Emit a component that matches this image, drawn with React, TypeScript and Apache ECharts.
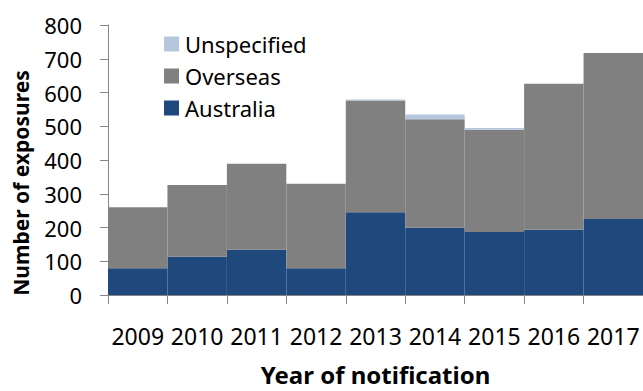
import React, { useEffect, useRef } from "react";
import * as echarts from "echarts";

const years = ["2009", "2010", "2011", "2012", "2013", "2014", "2015", "2016", "2017"];
const australia = [79, 113, 134, 79, 245, 199, 187, 193, 225];
const overseas = [181, 213, 255, 251, 331, 322, 303, 433, 492];
const unspecified = [0, 0, 0, 0, 3, 14, 5, 0, 0];
const yTicks = { min: 0, max: 800, interval: 100 };
const yTitle = "Number of exposures";
const xTitle = "Year of notification";

const FONT = "'Noto Sans', 'Open Sans', sans-serif";

export default function App() {
  const ref = useRef<HTMLDivElement>(null);
  useEffect(() => {
    if (!ref.current) return;
    const chart = echarts.init(ref.current, undefined, { renderer: "svg" });
    chart.setOption({
      animation: false,
      backgroundColor: "#ffffff",
      grid: { left: 108, right: 0, top: 25, bottom: 84, containLabel: false },
      legend: {
        orient: "vertical",
        left: 159,
        top: 28,
        itemWidth: 15,
        itemHeight: 15,
        itemGap: 10,
        itemStyle: { borderWidth: 0 },
        textStyle: { fontFamily: FONT, fontSize: 22, color: "#000000", padding: [0, 0, 0, 1] },
        data: ["Unspecified", "Overseas", "Australia"],
        icon: "rect",
      },
      graphic: [
        {
          type: "text",
          x: 21,
          y: 183,
          rotation: Math.PI / 2,
          style: {
            text: yTitle,
            fontFamily: FONT,
            fontSize: 21,
            fontWeight: "bold",
            fill: "#000000",
            textAlign: "center",
            textVerticalAlign: "middle",
          },
        },
      ],
      xAxis: {
        type: "category",
        data: years,
        boundaryGap: true,
        axisLine: { lineStyle: { color: "#868686", width: 1 } },
        axisTick: { show: true, length: 9, alignWithLabel: false, lineStyle: { color: "#868686" } },
        axisLabel: { fontFamily: FONT, fontSize: 23, color: "#000000", margin: 29, interval: 0 },
        name: xTitle,
        nameLocation: "middle",
        nameGap: 67,
        nameTextStyle: { fontFamily: FONT, fontSize: 24, fontWeight: "bold", color: "#000000" },
      },
      yAxis: {
        type: "value",
        min: yTicks.min,
        max: yTicks.max,
        interval: yTicks.interval,
        splitLine: { show: false },
        axisLine: { show: true, lineStyle: { color: "#868686", width: 1 } },
        axisTick: { show: true, length: 8, lineStyle: { color: "#868686" } },
        axisLabel: { fontFamily: FONT, fontSize: 22, color: "#000000", margin: 26 },
      },
      series: [
        {
          name: "Australia",
          type: "bar",
          stack: "total",
          data: australia,
          barCategoryGap: 0,
          barGap: 0,
          itemStyle: { color: "#1f497d" },
        },
        {
          name: "Overseas",
          type: "bar",
          stack: "total",
          data: overseas,
          barCategoryGap: 0,
          barGap: 0,
          itemStyle: { color: "#808080" },
        },
        {
          name: "Unspecified",
          type: "bar",
          stack: "total",
          data: unspecified,
          barCategoryGap: 0,
          barGap: 0,
          itemStyle: { color: "#b4c7dd" },
        },
      ],
    });
    return () => chart.dispose();
  }, []);
  return (
    <div
      ref={ref}
      style={{ position: "fixed", left: 0, top: 0, width: 643, height: 391, background: "#fff" }}
    />
  );
}
